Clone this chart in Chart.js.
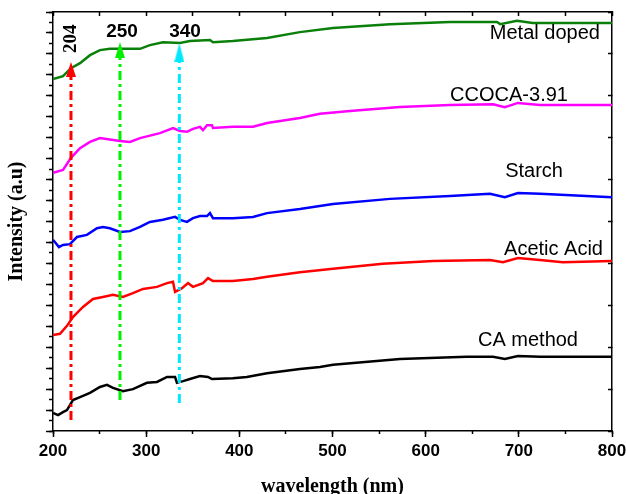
<!DOCTYPE html>
<html>
<head>
<meta charset="utf-8">
<script src="https://cdn.jsdelivr.net/npm/chart.js@4"></script>
<style>
  html, body { margin: 0; padding: 0; background: #fff; }
</style>
</head>
<body>
<canvas id="chart" width="626" height="494"></canvas>
<script>
// wavelength (nm) / intensity (a.u., curves offset vertically)
const metalX = [200, 210.7, 219.3, 229, 239.7, 250.4, 261, 293.4, 304, 318, 336.3, 347, 368.5, 371.7, 393, 429.7, 465, 500.5, 561.7, 626, 676.5, 680, 698, 715, 800];
const metalY = [8.40, 8.47, 8.66, 8.78, 8.97, 9.09, 9.12, 9.12, 9.21, 9.28, 9.26, 9.31, 9.33, 9.28, 9.31, 9.38, 9.52, 9.62, 9.71, 9.76, 9.76, 9.71, 9.79, 9.74, 9.74];

const ccocaX = [200, 210.7, 219.3, 229, 239.7, 250.4, 271.9, 282.6, 293.4, 314.8, 328.8, 336.3, 343.8, 350.2, 357.7, 361, 365.3, 370.6, 371.7, 393, 414.7, 429.7, 465, 486.5, 518.7, 572.4, 626, 672.3, 685, 699, 722.7, 800];
const ccocaY = [6.16, 6.23, 6.52, 6.75, 6.90, 6.99, 6.92, 6.90, 6.99, 7.11, 7.23, 7.16, 7.14, 7.21, 7.26, 7.18, 7.30, 7.30, 7.23, 7.26, 7.26, 7.35, 7.47, 7.57, 7.64, 7.73, 7.78, 7.80, 7.73, 7.83, 7.78, 7.78];

const starchX = [200, 202, 206.4, 210.7, 218.2, 225.7, 236.4, 247.2, 253.6, 261, 271.9, 282.6, 293.4, 304, 318, 331, 336.3, 343.8, 350.2, 357.7, 365.3, 368.5, 371.7, 393, 414.7, 429.7, 465, 500.5, 561.7, 626, 669, 685, 699, 722.7, 800];
const starchY = [4.56, 4.51, 4.39, 4.44, 4.46, 4.63, 4.68, 4.84, 4.87, 4.84, 4.75, 4.77, 4.87, 4.99, 5.04, 5.11, 5.04, 4.99, 5.08, 5.13, 5.13, 5.20, 5.08, 5.08, 5.11, 5.20, 5.30, 5.42, 5.54, 5.61, 5.66, 5.58, 5.68, 5.66, 5.58];

const aceticX = [200, 207.5, 215, 221.4, 232.2, 242.9, 253.6, 264.4, 275.1, 285.8, 296.6, 311.6, 322.4, 328.8, 331, 338.5, 344.9, 350.2, 361, 366.4, 371.7, 393, 414.7, 429.7, 465, 500.5, 554, 608, 669, 683, 699, 722.7, 747.3, 800];
const aceticY = [2.29, 2.32, 2.51, 2.72, 2.96, 3.15, 3.20, 3.25, 3.20, 3.29, 3.39, 3.44, 3.53, 3.56, 3.32, 3.41, 3.53, 3.44, 3.53, 3.65, 3.58, 3.58, 3.63, 3.68, 3.79, 3.87, 3.99, 4.06, 4.08, 4.03, 4.13, 4.08, 4.03, 4.06];

const caX = [200, 205.4, 210.7, 215, 221.4, 229, 239.7, 250.4, 257.9, 264.4, 275.1, 285.8, 300.8, 311.6, 322.4, 331, 333, 339.6, 347, 357.7, 366.4, 370.6, 393, 408, 429.7, 465, 486.5, 500.5, 572.4, 644, 672.3, 685, 699, 722.7, 800];
const caY = [0.43, 0.38, 0.45, 0.50, 0.74, 0.81, 0.91, 1.05, 1.10, 1.03, 0.95, 1.00, 1.15, 1.17, 1.29, 1.29, 1.15, 1.19, 1.24, 1.31, 1.29, 1.24, 1.26, 1.29, 1.38, 1.48, 1.53, 1.58, 1.72, 1.77, 1.77, 1.72, 1.79, 1.77, 1.77];

const seriesNames = ["Metal doped", "CCOCA-3.91", "Starch", "Acetic Acid", "CA method"];
const seriesColors = ["#0a800a", "#ff00ff", "#0000ff", "#ff0000", "#000000"];

// peak markers (dash-dot arrows)
const peakNames = ["204", "250", "340"];
const arrowX = [219.3, 271.9, 335.6];
const arrowFrom = [0.26, 0.74, 0.67];
const arrowTo = [8.63, 9.09, 9.03];
const arrowColors = ["#ff0000", "#00f000", "#00e8ff"];

// where the curve names / peak numbers go (data coords)
const nameX = [787, 752.7, 747.4, 790.3, 763.5];
const nameY = [9.36, 7.88, 6.06, 4.20, 2.03];
const peakLabelX = [218.2, 274.1, 341.7];
const peakLabelY = [9.36, 9.53, 9.53];

const toPoints = (xs, ys) => xs.map((x, i) => ({ x: x, y: ys[i] }));

function makeHead(color, w, h) {
  const c = document.createElement("canvas");
  c.width = w;
  c.height = h;
  const g = c.getContext("2d");
  g.fillStyle = color;
  g.beginPath();
  g.moveTo(w / 2, 0);
  g.lineTo(w, h);
  g.lineTo(0, h);
  g.closePath();
  g.fill();
  return c;
}
const headSizes = [[10, 15], [10, 16], [10, 19]];

const datasets = [];
arrowX.forEach((x, i) => {
  datasets.push({
    data: [{ x: x, y: arrowTo[i] }],
    showLine: false,
    pointStyle: makeHead(arrowColors[i], headSizes[i][0], headSizes[i][1]),
    pointRadius: 5,
    order: -2,
  });
  datasets.push({
    data: [{ x: x, y: arrowFrom[i] }, { x: x, y: arrowTo[i] }],
    borderColor: arrowColors[i],
    borderWidth: 3,
    borderDash: [9, 4, 3, 4],
    pointRadius: 0,
    order: -1,
  });
});
[[metalX, metalY], [ccocaX, ccocaY], [starchX, starchY], [aceticX, aceticY], [caX, caY]].forEach((s, i) => {
  datasets.push({
    label: seriesNames[i],
    data: toPoints(s[0], s[1]),
    borderColor: seriesColors[i],
    borderWidth: 2.5,
    pointRadius: 0,
    tension: 0,
  });
});

const textPlugin = {
  id: "curveText",
  afterDatasetsDraw(chart) {
    const ctx = chart.ctx;
    const xs = chart.scales.x, ys = chart.scales.y;
    ctx.save();
    ctx.fillStyle = "#000";
    ctx.font = "20px 'Liberation Sans', Arial, sans-serif";
    ctx.textAlign = "right";
    ctx.textBaseline = "alphabetic";
    seriesNames.forEach((n, i) => {
      ctx.fillText(n, xs.getPixelForValue(nameX[i]), ys.getPixelForValue(nameY[i]));
    });
    ctx.textAlign = "center";
    ctx.textBaseline = "middle";
    peakNames.forEach((n, i) => {
      const px = xs.getPixelForValue(peakLabelX[i]);
      const py = ys.getPixelForValue(peakLabelY[i]);
      if (i === 0) {
        ctx.save();
        ctx.translate(px, py);
        ctx.rotate(-Math.PI / 2);
        ctx.font = "bold 19px 'Liberation Serif', 'Times New Roman', serif";
        ctx.fillText(n, 0, 1);
        ctx.restore();
      } else {
        ctx.font = "bold 19px 'Liberation Sans', Arial, sans-serif";
        ctx.fillText(n, px, py);
      }
    });
    ctx.restore();
  },
};

const tickGrid = (len) => ({ drawOnChartArea: false, tickLength: len, color: "#000", tickColor: "#000", tickWidth: 1.5 });
const frame = { color: "#000", width: 1.5 };
const noSidePad = (s) => { s.paddingLeft = 0; s.paddingRight = 0; };

new Chart(document.getElementById("chart"), {
  type: "line",
  data: { datasets: datasets },
  plugins: [textPlugin],
  options: {
    responsive: false,
    animation: false,
    layout: { padding: 0 },
    plugins: { legend: { display: false }, tooltip: { enabled: false } },
    scales: {
      x: {
        type: "linear", position: "bottom", min: 200, max: 800, weight: 1,
        ticks: { stepSize: 100, color: "#000", padding: 4, maxRotation: 0, autoSkip: false,
                 font: { family: "'Liberation Sans', Arial, sans-serif", size: 17, weight: "bold" } },
        grid: tickGrid(6),
        border: frame,
        title: { display: true, text: "wavelength (nm)", color: "#000", padding: 0,
                 font: { family: "'Liberation Serif', 'Times New Roman', serif", size: 20, weight: "bold", lineHeight: 0.7 } },
        afterFit: (s) => { s.height = 63; noSidePad(s); },
      },
      xMinor: {
        type: "linear", position: "bottom", min: 200, max: 800, weight: 0,
        ticks: { display: false, stepSize: 50 },
        grid: tickGrid(3),
        border: { display: false },
        afterFit: (s) => { s.height = 0; noSidePad(s); },
      },
      xTop: {
        type: "linear", position: "top", min: 200, max: 800,
        ticks: { display: false, stepSize: 50 },
        grid: tickGrid(-4),
        border: frame,
        afterFit: (s) => { s.height = 12; noSidePad(s); },
      },
      y: {
        type: "linear", position: "left", min: 0, max: 10, weight: 1,
        ticks: { display: false, stepSize: 0.5 },
        grid: tickGrid(7),
        border: frame,
        title: { display: true, text: "Intensity (a.u)", color: "#000", padding: { top: 5, bottom: 0 },
                 font: { family: "'Liberation Serif', 'Times New Roman', serif", size: 20, weight: "bold", lineHeight: 1.2 } },
        afterFit: (s) => { s.width = 53; },
      },
      yMinor: {
        type: "linear", position: "left", min: 0, max: 10, weight: 0,
        ticks: { display: false, stepSize: 0.25 },
        grid: tickGrid(4),
        border: { display: false },
        afterFit: (s) => { s.width = 0; },
      },
      yRight: {
        type: "linear", position: "right", min: 0, max: 10,
        ticks: { display: false, stepSize: 1 },
        grid: tickGrid(-4),
        border: frame,
        afterFit: (s) => { s.width = 14; },
      },
    },
  },
});
</script>
</body>
</html>
